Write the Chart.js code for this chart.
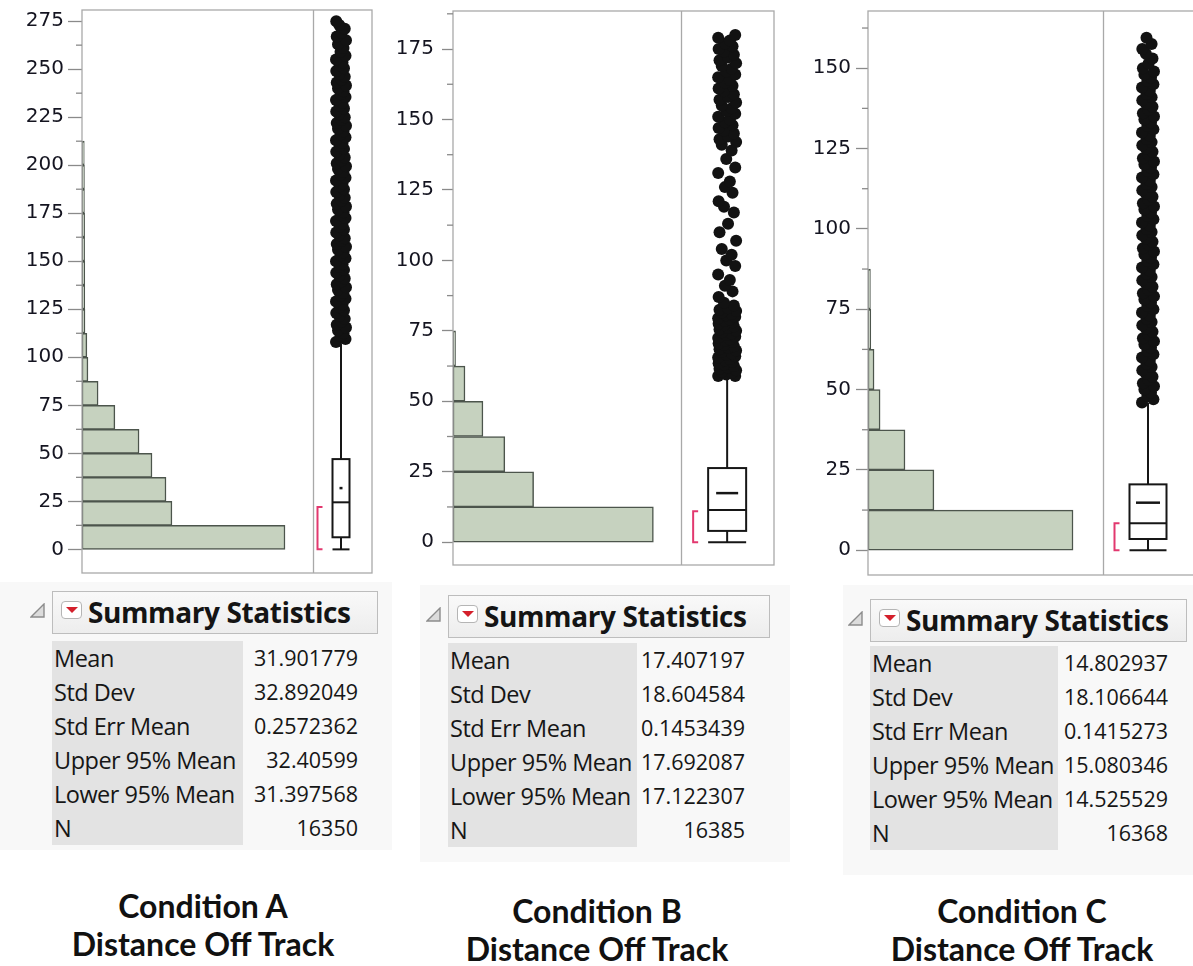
<!DOCTYPE html>
<html>
<head>
<meta charset="utf-8">
<script src="https://cdn.jsdelivr.net/npm/chart.js@4"></script>
<style>
  body { margin: 0; width: 1193px; height: 966px; overflow: hidden; position: relative; background: #fff; font-family: "Open Sans", sans-serif; }
  canvas { position: absolute; top: 0; }
  .shade { position: absolute; background: #f8f8f8; }
  .hdr { position: absolute; height: 43px; box-sizing: border-box; border: 1px solid #bdbdbd; background: linear-gradient(#f9f9f9, #ededed); }
  .hdr .ttl { position: absolute; left: 35px; top: 0px; line-height: 40px; font-weight: 700; font-size: 28px; color: #141414; letter-spacing: -0.4px; }
  .hdr .btn { position: absolute; left: 8px; top: 9px; width: 21px; height: 18px; box-sizing: border-box; border: 1px solid #b5b5b5; border-radius: 4px; background: #fff; }
  .hdr .btn:after { content: ""; position: absolute; left: 4px; top: 5px; border-left: 6px solid transparent; border-right: 6px solid transparent; border-top: 6px solid #d4202c; }
  .tri { position: absolute; }
  .lab { position: absolute; background: #e3e3e3; }
  .row { position: absolute; height: 34px; line-height: 34px; font-size: 23.5px; color: #161616; white-space: nowrap; letter-spacing: -0.5px; }
  .val { letter-spacing: 0; font-size: 21.5px; }
  .cap { position: absolute; width: 360px; text-align: center; font-family: "Liberation Sans Narrow", Lato, sans-serif; font-weight: 700; font-size: 32px; line-height: 38px; color: #111; }
</style>
</head>
<body>
<canvas id="panelA" width="380" height="585" style="left:0px"></canvas>
<canvas id="panelB" width="395" height="585" style="left:385px"></canvas>
<canvas id="panelC" width="410" height="585" style="left:795px"></canvas>

<div class="cap" style="left:23px;top:887px">Condition A<br>Distance Off Track</div>
<div class="cap" style="left:417px;top:892px">Condition B<br>Distance Off Track</div>
<div class="cap" style="left:842px;top:892px">Condition C<br>Distance Off Track</div>

<script>
// histogram bins (start of each 12.5 wide bin) and counts
const binStartsA = [0, 12.5, 25, 37.5, 50, 62.5, 75, 87.5, 100, 112.5, 125, 137.5, 150, 162.5, 175, 187.5, 200];
const countsA = [5800, 2570, 2400, 2000, 1630, 940, 460, 170, 140, 85, 80, 80, 75, 75, 70, 70, 65];
const binStartsB = [0, 12.5, 25, 37.5, 50, 62.5];
const countsB = [8700, 3500, 2250, 1300, 520, 110];
const binStartsC = [0, 12.5, 25, 37.5, 50, 62.5, 75];
const countsC = [10170, 3270, 1835, 600, 300, 140, 120];

// box plot: lower whisker, q1, median, q3, upper whisker
const boxA = [0, 6.3, 24.5, 47, 107];
const boxB = [0, 4, 11.4, 26.3, 59.3];
const boxC = [0, 3.5, 8.4, 20.5, 45.8];
// shortest half bracket
const halfA = [0, 22];
const halfB = [0, 11];
const halfC = [0, 8.4];

// outlier points above the upper whisker
const outliersA = [108, 109.5, 111, 112.5, 114, 115.5, 117, 118.5, 120, 121.5, 123, 124.5, 126, 127.5, 129, 130.5,
  132, 133.5, 135, 136.5, 138, 139.5, 141, 142.5, 144, 145.5, 147, 148.5, 150, 151.5, 153, 154.5, 156, 157.5,
  159, 160.5, 162, 163.5, 165, 166.5, 168, 169.5, 171, 172.5, 174, 175.5, 177, 178.5, 180, 181.5, 183, 184.5,
  186, 187.5, 189, 190.5, 192, 193.5, 195, 196.5, 198, 199.5, 201, 202.5, 204, 205.5, 207, 208.5, 210, 211.5,
  213, 214.5, 216, 217.5, 219, 220.5, 222, 223.5, 225, 226.5, 228, 229.5, 231, 232.5, 234, 235.5, 237, 238.5,
  240, 241.5, 243, 244.5, 246, 247.5, 249, 250.5, 252, 253.5, 255, 257, 259, 261, 263, 265, 267, 269, 271, 273, 275];
const outliersB = [59, 59, 59.5, 60, 60.5, 61, 61.5, 62, 62.5, 63, 63.5, 64, 64.5, 65, 65.5, 66, 66.5, 67, 67.5, 68,
  68.5, 69, 69.5, 70, 70.5, 71, 71.5, 72, 72.5, 73, 73.5, 74, 74.5, 75, 75.5, 76, 76.5, 77, 77.5, 78, 78.5, 79,
  79.5, 80, 80.5, 81, 81.5, 82, 82.5, 83, 84, 85,
  87, 89, 91, 93, 95, 98, 100, 102, 104, 107, 110, 113, 117, 119, 121, 124, 126, 128, 131, 133, 136, 139,
  141, 142, 143, 144, 145, 146, 147, 148, 149, 150, 151, 152, 153, 154, 155, 156, 157, 158, 159, 160, 161,
  162, 163, 164, 165, 166, 167, 168, 169, 170, 171, 172, 173, 174, 175, 176, 177, 178, 179, 180];
const outliersC = [46, 47, 48, 49, 50, 51, 52, 53, 54, 55, 56, 57, 58, 59, 60, 61, 62, 63, 64, 65, 66, 67, 68, 69, 70,
  71, 72, 73, 74, 75, 76, 77, 78, 79, 80, 81, 82, 83, 84, 85, 86, 87, 88, 89, 90, 91, 92, 93, 94, 95, 96, 97, 98,
  99, 100, 101, 102, 103, 104, 105, 106, 107, 108, 109, 110, 111, 112, 113, 114, 115, 116, 117, 118, 119, 120,
  121, 122, 123, 124, 125, 126, 127, 128, 129, 130, 131, 132, 133, 134, 135, 136, 137, 138, 139, 140, 141, 142,
  143, 144, 145, 146, 147, 148, 149, 150, 151.5, 153, 154.5, 156, 157.5, 159.5];
// horizontal jitter pattern for the outlier strip
const jitter = [-1, 0.9, -0.1, 0.5, -0.6, 1, -0.85, 0.1, 0.75, -0.35, -0.95, 0.6, -0.25, 0.3];

const ticksA = [0, 25, 50, 75, 100, 125, 150, 175, 200, 225, 250, 275];
const ticksB = [0, 25, 50, 75, 100, 125, 150, 175];
const ticksC = [0, 25, 50, 75, 100, 125, 150];

const statLabels = ['Mean', 'Std Dev', 'Std Err Mean', 'Upper 95% Mean', 'Lower 95% Mean', 'N'];
const statsA = ['31.901779', '32.892049', '0.2572362', '32.40599', '31.397568', '16350'];
const statsB = ['17.407197', '18.604584', '0.1453439', '17.692087', '17.122307', '16385'];
const statsC = ['14.802937', '18.106644', '0.1415273', '15.080346', '14.525529', '16368'];

function line(ctx, x1, y1, x2, y2) {
  ctx.beginPath();
  ctx.moveTo(x1, y1);
  ctx.lineTo(x2, y2);
  ctx.stroke();
}

function jmpPlugin(p, xMax, boxX) {
  return {
    id: 'jmp',
    beforeDatasetsDraw(chart) {
      const { ctx, scales: { x, y } } = chart;
      const cx = x.getPixelForValue(boxX);
      const Y = v => y.getPixelForValue(v);
      const b = p.box;
      ctx.save();
      ctx.strokeStyle = '#161616';
      ctx.lineWidth = 2;
      line(ctx, cx, Y(b[3]), cx, Y(b[4]));
      line(ctx, cx, Y(b[1]), cx, Y(b[0]));
      line(ctx, cx - p.hw, Y(b[0]), cx + p.hw, Y(b[0]));
      ctx.strokeRect(cx - p.hw, Y(b[3]), p.hw * 2, Y(b[1]) - Y(b[3]));
      line(ctx, cx - p.hw, Y(b[2]), cx + p.hw, Y(b[2]));
      ctx.lineWidth = 2.5;
      line(ctx, cx - p.mw, Y(p.mean), cx + p.mw, Y(p.mean));
      // shortest half bracket
      const bx = cx - p.hw - 15;
      ctx.strokeStyle = '#e2386f';
      ctx.lineWidth = 2;
      ctx.beginPath();
      ctx.moveTo(bx + 5, Y(p.half[1]));
      ctx.lineTo(bx, Y(p.half[1]));
      ctx.lineTo(bx, Y(p.half[0]));
      ctx.lineTo(bx + 5, Y(p.half[0]));
      ctx.stroke();
      ctx.restore();
    },
    afterDatasetsDraw(chart) {
      const { ctx, chartArea: a, scales: { x, y } } = chart;
      ctx.save();
      ctx.strokeStyle = '#a9a9a9';
      ctx.lineWidth = 1.3;
      ctx.strokeRect(a.left, a.top, a.right - a.left, a.bottom - a.top);
      const dx = Math.round(x.getPixelForValue(p.histMax)) + 0.5;
      line(ctx, dx, a.top, dx, a.bottom);
      // minor ticks halfway between labelled ticks
      ctx.strokeStyle = '#8a8a8a';
      p.ticks.forEach(v => {
        const m = v + 12.5;
        if (m < y.max) line(ctx, a.left - 6, y.getPixelForValue(m), a.left, y.getPixelForValue(m));
      });
      ctx.restore();
    }
  };
}

function makePanel(id, p) {
  const xMax = p.histMax * p.totalPx / p.histPx;
  const boxX = xMax * p.boxPx / p.totalPx;
  const perPx = xMax / p.totalPx;
  const histData = p.starts.map((s, i) => ({ x: p.counts[i], y: s + 6.25 }));
  const outData = p.outliers.map((v, i) => ({ x: boxX + jitter[i % jitter.length] * p.spread * perPx, y: v }));

  new Chart(document.getElementById(id), {
    type: 'bar',
    data: {
      datasets: [
        {
          type: 'scatter',
          data: outData,
          pointRadius: p.dot,
          pointBackgroundColor: '#121212',
          pointBorderWidth: 0,
          order: 0,
        },
        {
          data: histData,
          backgroundColor: '#c6d2bf',
          borderColor: '#4c554c',
          borderWidth: 1.5,
          borderSkipped: false,
          barPercentage: 1,
          categoryPercentage: 1,
          order: 1,
        },
      ],
    },
    options: {
      indexAxis: 'y',
      responsive: false,
      animation: false,
      layout: { padding: p.pad },
      plugins: { legend: { display: false }, tooltip: { enabled: false } },
      scales: {
        x: { type: 'linear', min: 0, max: xMax, display: false },
        y: {
          type: 'linear',
          offset: false,
          min: p.yMin,
          max: p.yMax,
          afterBuildTicks: s => { s.ticks = p.ticks.map(v => ({ value: v })); },
          afterFit: s => { s.width = p.axisW; s.paddingTop = 0; s.paddingBottom = 0; },
          border: { display: false },
          grid: { offset: false, drawOnChartArea: false, tickLength: p.tickLen, tickColor: '#8a8a8a', tickWidth: 1.3 },
          ticks: { padding: p.tickPad, color: '#141420', font: { family: 'DejaVu Sans', size: 20 } },
        },
      },
    },
    plugins: [jmpPlugin(p, xMax, boxX)],
  });
}

makePanel('panelA', {
  starts: binStartsA, counts: countsA, box: boxA, half: halfA, mean: parseFloat(statsA[0]),
  outliers: outliersA, ticks: ticksA, yMin: -12.3, yMax: 280.8,
  histMax: 6600, histPx: 231, totalPx: 290, boxPx: 259,
  hw: 8.5, mw: 1.5, spread: 5, dot: 6,
  axisW: 82, tickLen: 14, tickPad: 4, pad: { top: 10, bottom: 12, right: 8, left: 0 },
});
makePanel('panelB', {
  starts: binStartsB, counts: countsB, box: boxB, half: halfB, mean: parseFloat(statsB[0]),
  outliers: outliersB, ticks: ticksB, yMin: -8.1, yMax: 188.5,
  histMax: 9912, histPx: 229, totalPx: 322, boxPx: 275,
  hw: 19, mw: 11, spread: 9, dot: 6,
  axisW: 68, tickLen: 11, tickPad: 8, pad: { top: 11, bottom: 20, right: 5, left: 0 },
});
makePanel('panelC', {
  starts: binStartsC, counts: countsC, box: boxC, half: halfC, mean: parseFloat(statsC[0]),
  outliers: outliersC, ticks: ticksC, yMin: -7.7, yMax: 167.8,
  histMax: 11657, histPx: 235, totalPx: 328, boxPx: 280,
  hw: 18.5, mw: 12, spread: 6, dot: 6,
  axisW: 73, tickLen: 12, tickPad: 5, pad: { top: 11, bottom: 10, right: 9, left: 0 },
});

// summary statistics tables
function makeTable(t, values) {
  const body = document.body;
  const shade = document.createElement('div');
  shade.className = 'shade';
  Object.assign(shade.style, { left: t.shade[0] + 'px', top: t.shade[1] + 'px', width: t.shade[2] + 'px', height: t.shade[3] + 'px' });
  body.appendChild(shade);

  const tri = document.createElementNS('http://www.w3.org/2000/svg', 'svg');
  tri.setAttribute('class', 'tri');
  tri.setAttribute('width', '16');
  tri.setAttribute('height', '16');
  tri.style.left = (t.left - 22) + 'px';
  tri.style.top = (t.top + 12) + 'px';
  tri.innerHTML = '<polygon points="1,14 14,1 14,14" fill="#dcdcdc" stroke="#8c8c8c" stroke-width="1.4"/>';
  body.appendChild(tri);

  const hdr = document.createElement('div');
  hdr.className = 'hdr';
  Object.assign(hdr.style, { left: t.left + 'px', top: t.top + 'px', width: t.width + 'px' });
  hdr.innerHTML = '<div class="btn"></div><div class="ttl">Summary Statistics</div>';
  body.appendChild(hdr);

  const lab = document.createElement('div');
  lab.className = 'lab';
  Object.assign(lab.style, { left: t.left + 'px', top: t.rowsTop + 'px', width: t.labelW + 'px', height: (statLabels.length * 34) + 'px' });
  body.appendChild(lab);

  statLabels.forEach((s, i) => {
    const l = document.createElement('div');
    l.className = 'row';
    Object.assign(l.style, { left: (t.left + 2) + 'px', top: (t.rowsTop + i * 34) + 'px' });
    l.textContent = s;
    body.appendChild(l);
    const v = document.createElement('div');
    v.className = 'row val';
    Object.assign(v.style, { left: (t.valRight - 150) + 'px', top: (t.rowsTop + i * 34) + 'px', width: '150px', textAlign: 'right' });
    v.textContent = values[i];
    body.appendChild(v);
  });
}

makeTable({ left: 52, top: 591, width: 326, labelW: 191, rowsTop: 641, valRight: 358, shade: [0, 582, 392, 268] }, statsA);
makeTable({ left: 448, top: 595, width: 322, labelW: 189, rowsTop: 643, valRight: 745, shade: [420, 585, 370, 277] }, statsB);
makeTable({ left: 870, top: 599, width: 317, labelW: 188, rowsTop: 646, valRight: 1168, shade: [843, 585, 350, 290] }, statsC);
</script>
</body>
</html>
